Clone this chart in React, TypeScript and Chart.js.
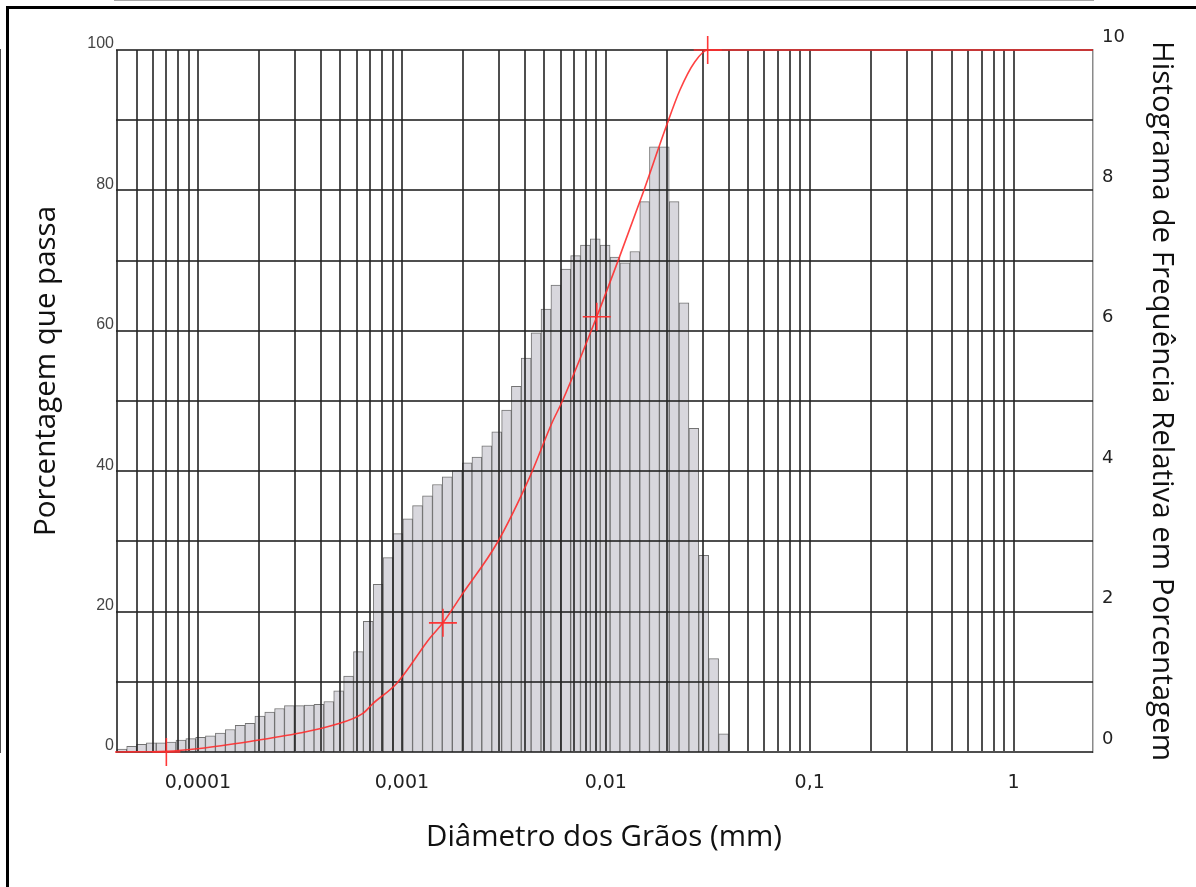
import React, { useEffect, useRef } from 'react';
import { Chart, registerables } from 'chart.js';

Chart.register(...registerables);

// Histogram bins: centre diameter (mm) and relative frequency (%)
const binDiameters = [
  0.0000423, 0.0000473, 0.0000528, 0.0000591, 0.000066, 0.0000738, 0.0000825, 0.0000922,
  0.000103, 0.000115, 0.000129, 0.000144, 0.000161, 0.00018, 0.000201, 0.000225,
  0.000251, 0.000281, 0.000314, 0.000351, 0.000392, 0.000438, 0.00049, 0.000548,
  0.000612, 0.000684, 0.000765, 0.000855, 0.000956, 0.00107, 0.00119, 0.00134,
  0.00149, 0.00167, 0.00187, 0.00209, 0.00233, 0.00261, 0.00292, 0.00326,
  0.00364, 0.00407, 0.00455, 0.00509, 0.00569, 0.00636, 0.00711, 0.00794,
  0.00888, 0.00993, 0.0111, 0.0124, 0.0139, 0.0155, 0.0173, 0.0194,
  0.0216, 0.0242, 0.027, 0.0302, 0.0338, 0.0378,
];
const binFrequency = [
  0.04, 0.08, 0.11, 0.13, 0.13, 0.14, 0.17, 0.19, 0.21, 0.23, 0.27, 0.32,
  0.38, 0.41, 0.51, 0.57, 0.62, 0.66, 0.66, 0.67, 0.68, 0.72, 0.87, 1.08,
  1.43, 1.86, 2.39, 2.77, 3.11, 3.32, 3.51, 3.65, 3.81, 3.92, 4.01, 4.12,
  4.2, 4.36, 4.56, 4.87, 5.21, 5.61, 5.97, 6.31, 6.65,
  6.88, 7.07, 7.22, 7.31, 7.22, 7.05, 6.97, 7.13, 7.84, 8.62, 8.62, 7.84,
  6.4, 4.61, 2.8, 1.33, 0.26,
];

// Cumulative passing curve (mm, %)
const curveDiameters = [
  0.0000392, 0.00007, 0.000102, 0.00018, 0.000316, 0.000459, 0.000644, 0.000721,
  0.000945, 0.00137, 0.00159, 0.00199, 0.00292, 0.00424, 0.00543,
  0.00615, 0.00903, 0.0117, 0.0152, 0.0195, 0.0231, 0.0273, 0.0316, 2.45,
];
const curvePassing = [
  0, 0.1, 0.5, 1.5, 2.7, 3.8, 5.5, 6.9,
  9.8, 16.2, 18.4, 22.6, 29.7, 39.2, 46.8,
  50.1, 62.0, 70.6, 79.6, 88.6, 94.3, 98.3, 100, 100,
];

// Marked points on the curve
const markerDiameters = [0.00007, 0.00159, 0.00903, 0.0316];
const markerPassing = [0, 18.4, 62.0, 100];

// Axis ticks
const xTickValues = [0.0001, 0.001, 0.01, 0.1, 1];
const xTickLabels = ['0,0001', '0,001', '0,01', '0,1', '1'];
const gridDecades = [0.00001, 0.0001, 0.001, 0.01, 0.1];
const gridMultipliers = [1, 2, 3, 4, 5, 6, 7, 8, 9];
const xMin = 0.0000392;
const xMax = 2.45;

const xTitle = 'Diâmetro dos Grãos (mm)';
const leftTitle = 'Porcentagem que passa';
const rightTitle = 'Histograma de Frequência Relativa em Porcentagem';

const GRID = 'rgba(35,35,35,0.8)';
const TITLE_FONT = { family: 'Open Sans', size: 29.5 };

const framePlugin = {
  id: 'frame',
  beforeDraw(chart: any) {
    const ctx = chart.ctx;
    ctx.save();
    ctx.fillStyle = '#fff';
    ctx.fillRect(0, 0, chart.width, chart.height);
    ctx.restore();
  },
  afterDraw(chart: any) {
    const ctx = chart.ctx;
    ctx.save();
    ctx.fillStyle = '#000';
    ctx.fillRect(6, 6, 1190, 3);
    ctx.fillRect(6, 6, 3, 881);
    ctx.restore();
  },
};

const leftTitlePlugin = {
  id: 'leftTitle',
  afterDraw(chart: any) {
    const ctx = chart.ctx;
    ctx.save();
    ctx.font = `${TITLE_FONT.size}px "${TITLE_FONT.family}"`;
    ctx.fillStyle = '#111';
    ctx.textAlign = 'center';
    ctx.textBaseline = 'middle';
    ctx.translate(47, 371);
    ctx.rotate(-Math.PI / 2);
    ctx.fillText(leftTitle, 0, 0);
    ctx.restore();
  },
};

// draw the curve and markers above the grid
const onTopPlugin = {
  id: 'onTop',
  beforeDatasetDraw(chart: any, args: any) {
    if (args.meta.type !== 'bar') return false;
    return true;
  },
  afterDraw(chart: any) {
    chart.getSortedVisibleDatasetMetas().forEach((meta: any) => {
      if (meta.type !== 'bar') meta.controller.draw();
    });
  },
};

export default function App() {
  const ref = useRef<HTMLCanvasElement>(null);

  useEffect(() => {
    const gridTicks: number[] = [];
    gridDecades.forEach((d) => gridMultipliers.forEach((m) => {
      const v = d * m;
      if (v >= xMin && v <= xMax) gridTicks.push(v);
    }));
    gridTicks.push(1);

    const chart = new Chart(ref.current as HTMLCanvasElement, {
      type: 'bar',
      data: {
        datasets: [
          {
            type: 'bar',
            data: binDiameters.map((d, i) => ({ x: d, y: binFrequency[i] })),
            yAxisID: 'y2',
            xAxisID: 'x',
            backgroundColor: '#d8d7dd',
            borderColor: 'rgba(90,90,90,0.85)',
            borderWidth: 1,
            barPercentage: 1,
            categoryPercentage: 1,
            barThickness: 'flex',
          } as any,
          {
            type: 'line',
            data: curveDiameters.map((d, i) => ({ x: d, y: curvePassing[i] })),
            yAxisID: 'y',
            xAxisID: 'x',
            borderColor: 'rgba(255,45,45,0.9)',
            borderWidth: 1.6,
            pointRadius: 0,
            cubicInterpolationMode: 'monotone',
            fill: false,
          } as any,
          {
            type: 'scatter',
            data: markerDiameters.map((d, i) => ({ x: d, y: markerPassing[i] })),
            yAxisID: 'y',
            xAxisID: 'x',
            pointStyle: 'cross',
            pointRadius: 14,
            borderColor: 'rgba(255,45,45,0.95)',
            backgroundColor: 'rgba(255,45,45,0.95)',
            borderWidth: 1.6,
            showLine: false,
            clip: false,
          } as any,
        ],
      },
      options: {
        responsive: false,
        animation: false,
        devicePixelRatio: 1,
        events: [],
        layout: { padding: { top: 50, left: 0, right: 0, bottom: 0 } },
        plugins: { legend: { display: false }, tooltip: { enabled: false } },
        scales: {
          x: {
            type: 'logarithmic',
            min: xMin,
            max: xMax,
            bounds: 'data',
            offset: false,
            afterBuildTicks: (s: any) => {
              s.ticks = gridTicks.map((v) => ({ value: v }));
            },
            afterFit: (s: any) => { s.height = 135; },
            ticks: {
              autoSkip: false,
              maxRotation: 0,
              minRotation: 0,
              padding: 20,
              color: '#222',
              font: { family: 'DejaVu Sans', size: 19 },
              callback: (value: any) => {
                const i = xTickValues.findIndex((t) => Math.abs(Math.log10(t) - Math.log10(Number(value))) < 1e-6);
                return i >= 0 ? xTickLabels[i] : '';
              },
            },
            grid: { color: GRID, lineWidth: 2, drawTicks: false, offset: false, z: 1 },
            border: { display: true, color: '#8a8a8a', width: 1.5 },
            title: {
              display: true,
              text: xTitle,
              color: '#111',
              font: TITLE_FONT,
              padding: { top: 0, bottom: 32 },
            },
          } as any,
          y: {
            type: 'linear',
            position: 'left',
            min: 0,
            max: 100,
            afterFit: (s: any) => { s.width = 115; },
            ticks: {
              stepSize: 10,
              autoSkip: false,
              padding: 1,
              labelOffset: -6,
              color: '#444',
              font: { family: 'Liberation Sans', size: 16 },
              callback: (v: any) => (Number(v) % 20 === 0 ? String(v) : ''),
            },
            grid: { color: GRID, lineWidth: 2, drawTicks: false, z: 1 },
            border: { display: true, color: GRID, width: 2 },
          } as any,
          y2: {
            type: 'linear',
            position: 'right',
            min: 0,
            max: 10,
            afterFit: (s: any) => { s.width = 103; },
            ticks: {
              stepSize: 2,
              autoSkip: false,
              padding: 9,
              labelOffset: -13,
              color: '#222',
              font: { family: 'DejaVu Sans', size: 18 },
            },
            grid: { display: false, drawTicks: false },
            border: { display: true, color: '#8a8a8a', width: 1.5 },
            title: {
              display: true,
              text: rightTitle,
              color: '#111',
              font: TITLE_FONT,
              padding: { top: 17, bottom: 0 },
            },
          } as any,
        },
      },
      plugins: [framePlugin, onTopPlugin, leftTitlePlugin],
    } as any);
    return () => chart.destroy();
  }, []);

  return (
    <div style={{ position: 'absolute', left: 0, top: 0, width: 1196, height: 887, background: '#fff' }}>
      <canvas ref={ref} width={1196} height={887} style={{ display: 'block' }} />
    </div>
  );
}
